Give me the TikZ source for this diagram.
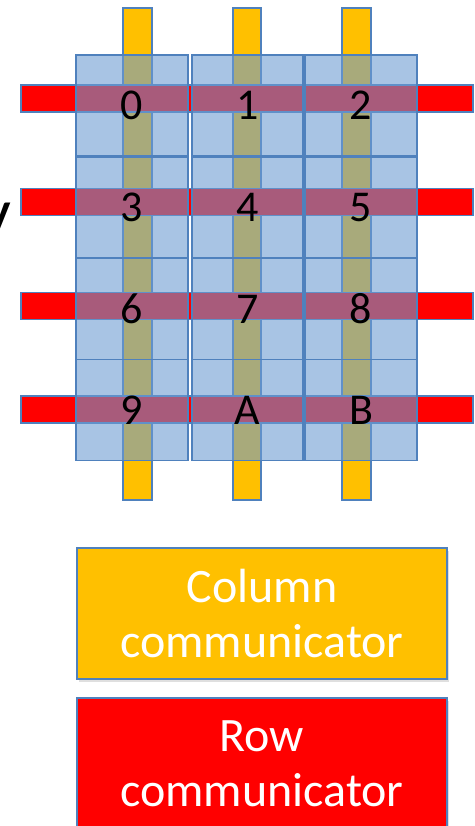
\documentclass[tikz,border=0pt]{standalone}
\usepackage{fontspec}
\setmainfont{Carlito}
\usetikzlibrary{shadows}
\definecolor{bline}{RGB}{79,129,189}
\definecolor{cellc}{RGB}{108,156,210}
\definecolor{orng}{RGB}{255,192,0}
\definecolor{rd}{RGB}{255,0,0}
\begin{document}
\begin{tikzpicture}[x=1pt,y=-1pt,
  bar/.style={draw=bline,line width=1.3pt,inner sep=0pt,outer sep=0pt},
  obar/.style={bar,fill=orng,minimum width=29pt,minimum height=492pt},
  rbar/.style={bar,fill=rd,minimum width=452pt,minimum height=27pt},
  cell/.style={draw=bline,line width=1.6pt,fill=cellc,fill opacity=0.59,text opacity=1,
    minimum width=112pt,minimum height=101pt,inner sep=0pt,
    font=\fontsize{44}{50}\selectfont},
  legendbox/.style={draw=bline,line width=1.2pt,minimum width=370pt,minimum height=131pt,
    inner sep=0pt,text=white,align=center,font=\fontsize{48}{55}\selectfont,
    drop shadow={opacity=0.25,shadow xshift=1.5pt,shadow yshift=-2.5pt}}]
\useasboundingbox (0,0) rectangle (474,826);
\fill[white] (0,0) rectangle (474,826);

% partial label at left edge
\node[anchor=base east,inner sep=0pt,font=\fontsize{68}{70}\selectfont] (ylbl) at (11,235) {y};

% column communicators (orange)
\node[obar] (oc1) at (137.5,254) {};
\node[obar,minimum width=28pt] (oc2) at (247,254) {};
\node[obar] (oc3) at (356.5,254) {};

% row communicators (red)
\node[rbar] (rr1) at (247,98.5) {};
\node[rbar] (rr2) at (247,202) {};
\node[rbar] (rr3) at (247,306) {};
\node[rbar] (rr4) at (247,409.5) {};

% process cells
\node[cell] (p0) at (132,105.5) {0};
\node[cell,minimum width=111pt] (p1) at (247.5,105.5) {1};
\node[cell] (p2) at (361,105.5) {2};
\node[cell] (p3) at (132,207.5) {3};
\node[cell,minimum width=111pt] (p4) at (247.5,207.5) {4};
\node[cell] (p5) at (361,207.5) {5};
\node[cell] (p6) at (132,309) {6};
\node[cell,minimum width=111pt] (p7) at (247.5,309) {7};
\node[cell] (p8) at (361,309) {8};
\node[cell] (p9) at (132,410) {9};
\node[cell,minimum width=111pt] (pA) at (247.5,410) {A};
\node[cell] (pB) at (361,410) {B};

% legend
\node[legendbox,fill=orng] (lcol) at (262,613.5) {Column\\communicator};
\node[legendbox,fill=rd] (lrow) at (262,763.5) {Row\\communicator};
\end{tikzpicture}
\end{document}
